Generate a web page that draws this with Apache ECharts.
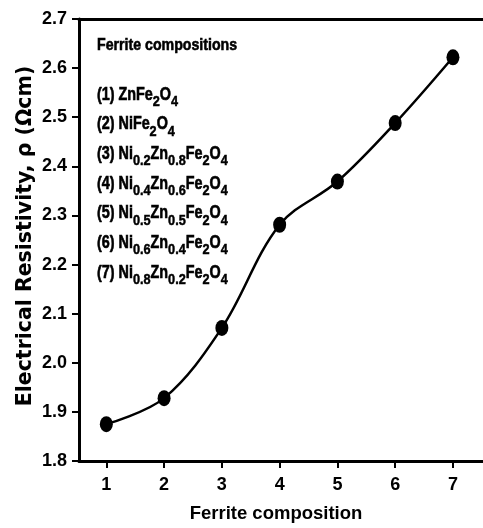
<!DOCTYPE html>
<html>
<head>
<meta charset="utf-8">
<script src="https://cdn.jsdelivr.net/npm/echarts@6/dist/echarts.min.js"></script>
<style>
html,body{margin:0;padding:0;background:#fff;}
#c{width:483px;height:528px;}
</style>
</head>
<body>
<div id="c"></div>
<script>
// ---- data ----
var compositions = [1, 2, 3, 4, 5, 6, 7];
var resistivity = [1.875, 1.928, 2.071, 2.281, 2.369, 2.488, 2.622];
var yTicks = [1.8, 1.9, 2.0, 2.1, 2.2, 2.3, 2.4, 2.5, 2.6, 2.7];
var legendTitle = 'Ferrite compositions';
// each composition as [text, style] fragments; style 'n' normal, 's' subscript
var legendLines = [
  [['(1) ZnFe','n'],['2','s'],['O','n'],['4','s']],
  [['(2) NiFe','n'],['2','s'],['O','n'],['4','s']],
  [['(3) Ni','n'],['0.2','s'],['Zn','n'],['0.8','s'],['Fe','n'],['2','s'],['O','n'],['4','s']],
  [['(4) Ni','n'],['0.4','s'],['Zn','n'],['0.6','s'],['Fe','n'],['2','s'],['O','n'],['4','s']],
  [['(5) Ni','n'],['0.5','s'],['Zn','n'],['0.5','s'],['Fe','n'],['2','s'],['O','n'],['4','s']],
  [['(6) Ni','n'],['0.6','s'],['Zn','n'],['0.4','s'],['Fe','n'],['2','s'],['O','n'],['4','s']],
  [['(7) Ni','n'],['0.8','s'],['Zn','n'],['0.2','s'],['Fe','n'],['2','s'],['O','n'],['4','s']]
];

var legendText = legendLines.map(function (line) {
  return line.map(function (f) { return '{' + f[1] + '|' + f[0] + '}'; }).join('');
}).join('\n');

var FONT = '"Liberation Sans", Arial, sans-serif';
var chart = echarts.init(document.getElementById('c'), null, {renderer: 'canvas'});
var xMin = 0.527, xMax = 7.52;

chart.setOption({
  backgroundColor: '#fff',
  animation: false,
  graphic: [
    {
      type: 'text', x: 97, y: 35, scaleX: 0.82, z: 10,
      style: {text: legendTitle, font: 'bold 17.3px ' + FONT, fill: '#000', stroke: '#000', lineWidth: 0.6,
        lineHeight: 20, verticalAlign: 'top', align: 'left'}
    },
    {
      type: 'text', x: 97, y: 80, scaleX: 0.82, z: 10,
      style: {
        text: legendText, font: 'bold 17.5px ' + FONT, fill: '#000', stroke: '#000', lineWidth: 0.6,
        lineHeight: 29.7, verticalAlign: 'top', align: 'left',
        rich: {
          n: {font: 'bold 17.5px ' + FONT, fill: '#000', stroke: '#000', lineWidth: 0.6, lineHeight: 29.7},
          s: {font: 'bold 15.5px ' + FONT, fill: '#000', stroke: '#000', lineWidth: 0.5, lineHeight: 11.4, verticalAlign: 'bottom'}
        }
      }
    }
  ],
  grid: {left: 79, top: 19, width: 414, bottom: 67, containLabel: false},
  xAxis: [
    {
      type: 'value', min: xMin, max: xMax, position: 'bottom',
      name: 'Ferrite composition', nameLocation: 'middle', nameGap: 43, nameMoveOverlap: false,
      nameTextStyle: {fontFamily: FONT, fontSize: 18.5, fontWeight: 'bold', color: '#000', padding: [0, 10, 0, 0]},
      axisLine: {show: true, lineStyle: {color: '#000', width: 3}},
      axisTick: {show: true, inside: false, length: 7, lineStyle: {color: '#000', width: 2}, customValues: compositions},
      axisLabel: {show: true, margin: 15, fontFamily: FONT, fontSize: 18, fontWeight: 'bold', color: '#000', customValues: compositions},
      splitLine: {show: false}
    },
    {
      type: 'value', min: xMin, max: xMax, position: 'top',
      axisLine: {show: true, lineStyle: {color: '#000', width: 3}},
      axisTick: {show: false}, axisLabel: {show: false}, splitLine: {show: false}
    }
  ],
  yAxis: {
    type: 'value', min: yTicks[0], max: yTicks[yTicks.length - 1], interval: 0.1,
    name: 'Electrical Resistivity, \u03c1 (\u03a9cm)', nameLocation: 'middle', nameGap: 43, nameMoveOverlap: false,
    nameTextStyle: {fontFamily: '"DejaVu Sans", sans-serif', fontSize: 20.5, fontWeight: 'bold', color: '#000', padding: [0, 0, 0, 8]},
    axisLine: {show: true, lineStyle: {color: '#000', width: 3}},
    axisTick: {show: true, inside: false, length: 7, lineStyle: {color: '#000', width: 2}},
    axisLabel: {margin: 12, fontFamily: FONT, fontSize: 18, fontWeight: 'bold', color: '#000',
      formatter: function (v) { return v.toFixed(1); }},
    splitLine: {show: false}
  },
  series: [{
    type: 'line',
    data: compositions.map(function (c, i) { return [c, resistivity[i]]; }),
    smooth: 0.35,
    symbol: 'circle',
    symbolSize: [13, 16],
    itemStyle: {color: '#000'},
    lineStyle: {color: '#000', width: 2.5},
    z: 5
  }]
});
</script>
</body>
</html>
